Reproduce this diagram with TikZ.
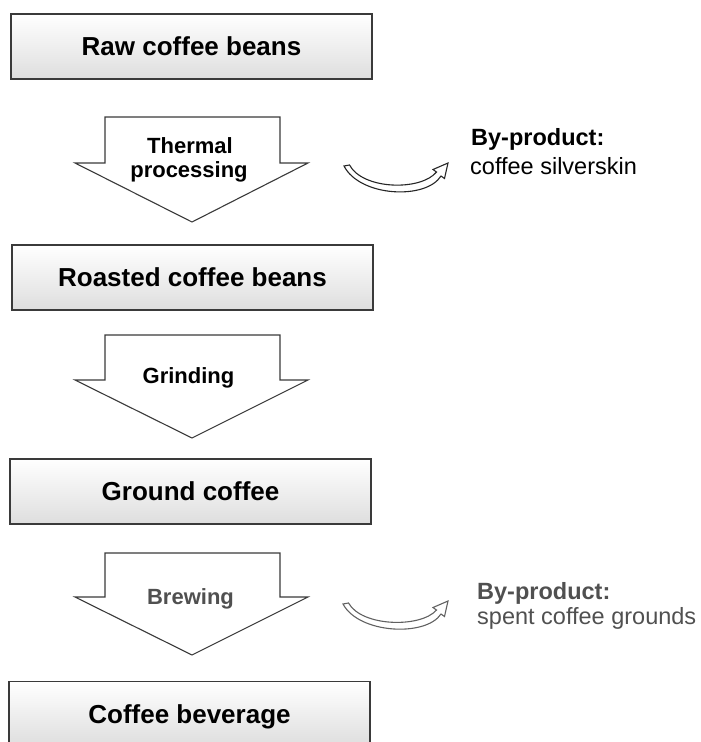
\documentclass[tikz,border=0pt]{standalone}
\usepackage{fontspec}
\setmainfont{Liberation Sans}
\usetikzlibrary{calc}
\definecolor{edge}{HTML}{3A3A3A}
\definecolor{greytext}{HTML}{505050}
\begin{document}
\begin{tikzpicture}[x=1pt,y=-1pt,
  stagebox/.style={draw=edge, line width=1.5pt, top color=white, bottom color=black!13,
    minimum width=361pt, minimum height=65pt, inner sep=0pt,
    font=\fontsize{26}{30}\selectfont\bfseries, text height=18.6pt, text depth=0pt},
  blockarrow/.style={draw=edge, line width=1.1pt, fill=white, line join=miter},
  arrowlabel/.style={font=\fontsize{22}{25}\selectfont\bfseries, anchor=base, inner sep=1pt},
  bytext/.style={font=\fontsize{23.5}{28}\selectfont, anchor=base west, inner sep=0pt},
  curl/.style={draw=#1, line width=1.1pt, fill=white, line join=miter}
]
\clip (0,0) rectangle (701,742);
\useasboundingbox (0,0) rectangle (701,742);

% stage boxes
\node[stagebox] (raw) at (191.5,46.5) {Raw coffee beans};
\node[stagebox] (roasted) at (192.5,277.5) {Roasted coffee beans};
\node[stagebox] (ground) at (190.5,491.5) {Ground coffee};
\node[stagebox, text depth=-3pt] (bev) at (189.5,714) {Coffee beverage};

% block arrows
\coordinate (a1) at (192,117);
\draw[blockarrow] ($(a1)+(-87,0)$) -- ++(175,0) -- ++(0,46) -- ++(28,0) -- ($(a1)+(0,105)$) -- ($(a1)+(-117,46)$) -- ++(30,0) -- cycle;
\node[arrowlabel] (thermal) at (190,153) {Thermal};
\node[arrowlabel] (processing) at (189,177) {processing};

\coordinate (a2) at (192,335);
\draw[blockarrow] ($(a2)+(-87,0)$) -- ++(175,0) -- ++(0,45) -- ++(28,0) -- ($(a2)+(0,103)$) -- ($(a2)+(-117,45)$) -- ++(30,0) -- cycle;
\node[arrowlabel] (grinding) at (188.5,383) {Grinding};

\coordinate (a3) at (192,553);
\draw[blockarrow] ($(a3)+(-87,0)$) -- ++(175,0) -- ++(0,44) -- ++(28,0) -- ($(a3)+(0,102)$) -- ($(a3)+(-117,44)$) -- ++(30,0) -- cycle;
\node[arrowlabel, text=greytext] (brewing) at (190.5,604) {Brewing};

% by-product 1 (curved block arrow)
\draw[curl=black!85] (344,166) .. controls (360,197) and (426,200) .. (441,176)
  -- (444.5,178.5) -- (448,163) -- (433,169.5) -- (436.5,172)
  .. controls (421,191) and (363,190) .. (349.5,165) -- cycle;
\node[bytext] (bp1a) at (471,145) {\bfseries By-product:};
\node[bytext] (bp1b) at (470,174) {coffee silverskin};

% by-product 2 (curved block arrow)
\draw[curl=black!62] (343,604) .. controls (359,634) and (426,637) .. (441,614)
  -- (444.5,616.5) -- (448,601) -- (433,607.5) -- (436.5,610)
  .. controls (421,628) and (362,627) .. (348.5,603) -- cycle;
\node[bytext, text=greytext] (bp2a) at (477,599) {\bfseries By-product:};
\node[bytext, text=greytext] (bp2b) at (477,624) {spent coffee grounds};
\end{tikzpicture}
\end{document}
